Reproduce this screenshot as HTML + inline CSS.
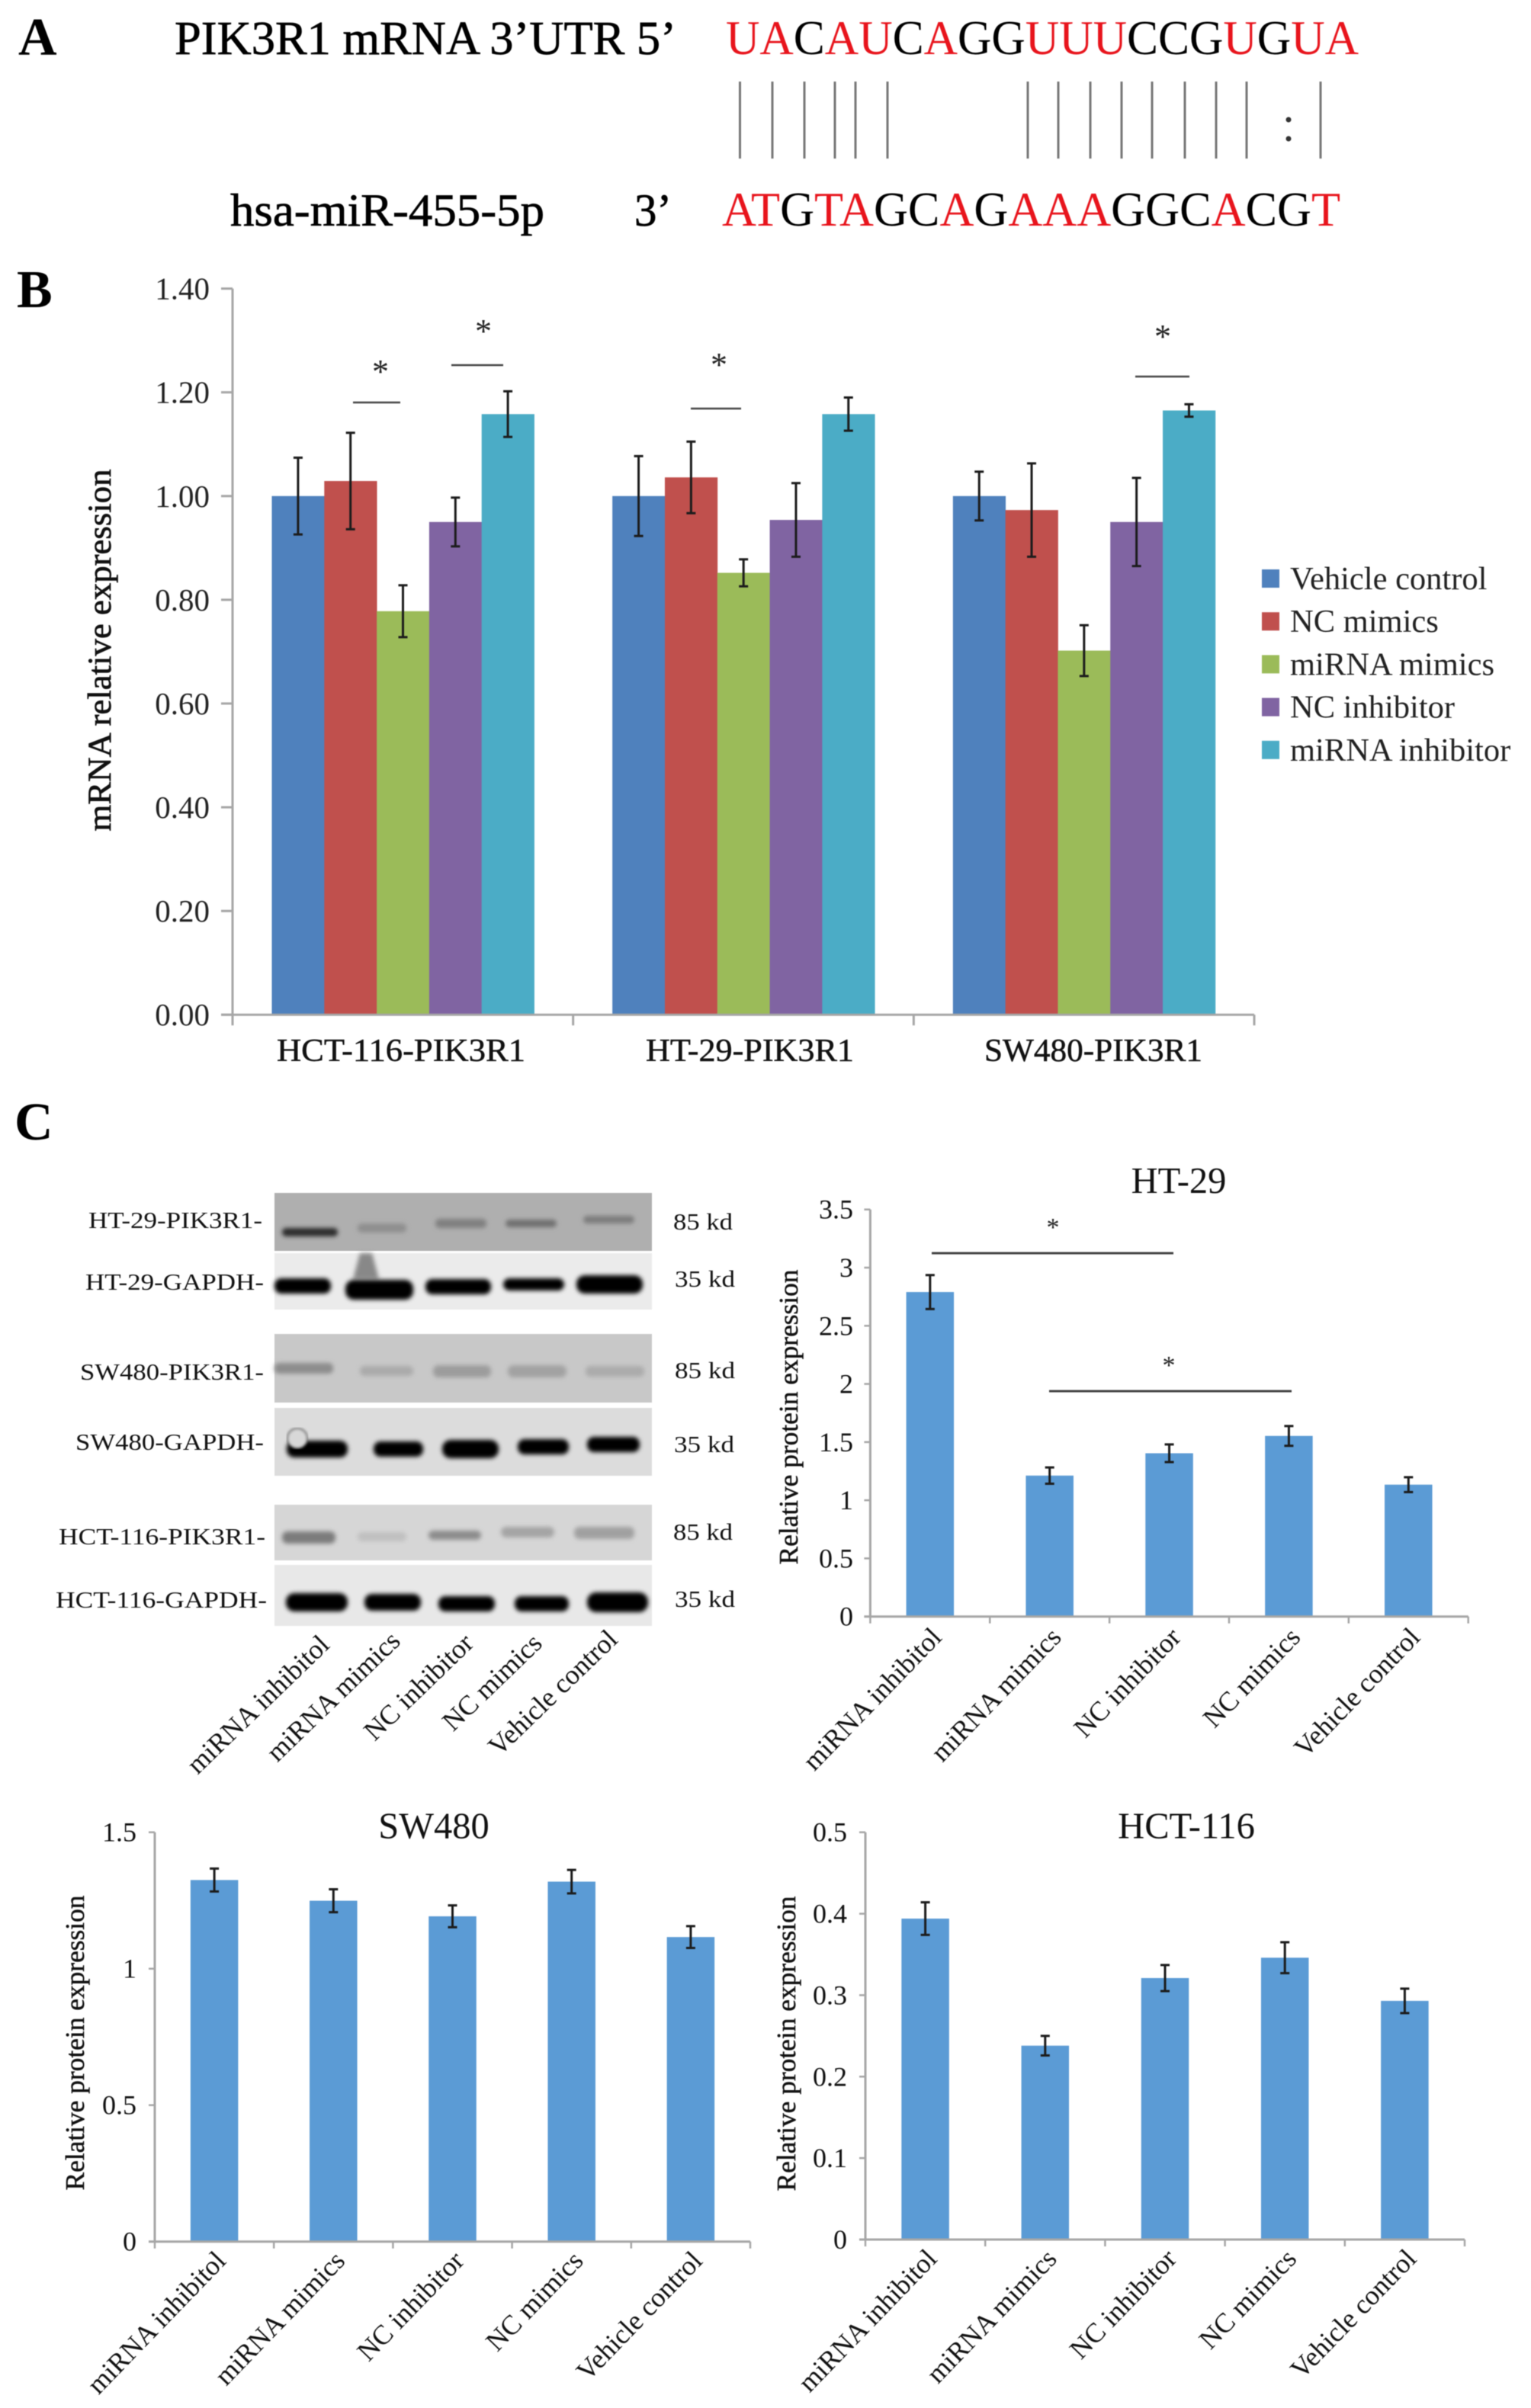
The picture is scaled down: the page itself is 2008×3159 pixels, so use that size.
<!DOCTYPE html>
<html lang="en">
<head>
<meta charset="utf-8">
<title>PIK3R1 and miR-455-5p figure</title>
<style>
html,body{margin:0;padding:0;background:#fff;}
body{width:2008px;height:3159px;overflow:hidden;}
svg{display:block;filter:blur(0.6px);font-family:"Liberation Serif",serif;}
</style>
</head>
<body>
<svg id="figure" xmlns="http://www.w3.org/2000/svg" width="2008" height="3159" viewBox="0 0 2008 3159">
<defs>
<filter id="bandBlur" x="-20%" y="-60%" width="140%" height="220%"><feGaussianBlur stdDeviation="3"/></filter>
<filter id="panelSoft" x="-5%" y="-5%" width="110%" height="110%"><feGaussianBlur stdDeviation="1.5"/></filter>
</defs>
<rect x="0" y="0" width="2008" height="3159" fill="#fff"/>

<!-- Panel A -->
<g>
<text x="24" y="72" font-size="70" font-weight="700" fill="#000">A</text>
<text x="229" y="71" font-size="62" textLength="658" lengthAdjust="spacingAndGlyphs" fill="#000" stroke="#000" stroke-width="0.7">PIK3R1 mRNA 3’UTR 5’</text>
<text x="952" y="71" font-size="64" textLength="830" lengthAdjust="spacingAndGlyphs" fill="#000"><tspan fill="#e8141c">UA</tspan>C<tspan fill="#e8141c">AU</tspan>C<tspan fill="#e8141c">A</tspan>GG<tspan fill="#e8141c">UUU</tspan>CCG<tspan fill="#e8141c">U</tspan>G<tspan fill="#e8141c">UA</tspan></text>
<g stroke="#777" stroke-width="3">
<line x1="970.5" x2="970.5" y1="107" y2="208"/><line x1="1013" x2="1013" y1="107" y2="208"/><line x1="1055" x2="1055" y1="107" y2="208"/><line x1="1095" x2="1095" y1="107" y2="208"/><line x1="1122" x2="1122" y1="107" y2="208"/><line x1="1164" x2="1164" y1="107" y2="208"/><line x1="1348" x2="1348" y1="107" y2="208"/><line x1="1388" x2="1388" y1="107" y2="208"/><line x1="1430" x2="1430" y1="107" y2="208"/><line x1="1471" x2="1471" y1="107" y2="208"/><line x1="1511" x2="1511" y1="107" y2="208"/><line x1="1554" x2="1554" y1="107" y2="208"/><line x1="1595" x2="1595" y1="107" y2="208"/><line x1="1635" x2="1635" y1="107" y2="208"/><line x1="1732" x2="1732" y1="107" y2="208"/>
</g>
<circle cx="1690" cy="157" r="3.5" fill="#333"/>
<circle cx="1690" cy="182" r="3.5" fill="#333"/>
<text x="302" y="296" font-size="60" textLength="412" lengthAdjust="spacingAndGlyphs" fill="#000" stroke="#000" stroke-width="0.7">hsa-miR-455-5p</text>
<text x="832" y="296" font-size="60" textLength="49" lengthAdjust="spacingAndGlyphs" fill="#000" stroke="#000" stroke-width="0.7">3’</text>
<text x="947" y="296" font-size="64" textLength="811" lengthAdjust="spacingAndGlyphs" fill="#000"><tspan fill="#e8141c">AT</tspan>G<tspan fill="#e8141c">TA</tspan>GC<tspan fill="#e8141c">A</tspan>G<tspan fill="#e8141c">AAA</tspan>GGC<tspan fill="#e8141c">A</tspan>CG<tspan fill="#e8141c">T</tspan></text>
</g>

<!-- Panel letters -->
<text x="22" y="403" font-size="70" font-weight="700" fill="#000">B</text>
<text x="19" y="1495" font-size="70" font-weight="700" fill="#000">C</text>

<!-- Chart B axis furniture filled by script -->
<g id="chart-b"></g>

<!-- Significance markers, chart B -->
<g fill="#222" stroke="none" font-size="44" text-anchor="middle">
<line x1="463" x2="525" y1="528" y2="528" stroke="#444" stroke-width="2.5"/>
<text x="499" y="502">*</text>
<line x1="592" x2="660" y1="479" y2="479" stroke="#444" stroke-width="2.5"/>
<text x="634" y="449">*</text>
<line x1="906" x2="972" y1="536" y2="536" stroke="#444" stroke-width="2.5"/>
<text x="943" y="493">*</text>
<line x1="1489" x2="1560" y1="494" y2="494" stroke="#444" stroke-width="2.5"/>
<text x="1525" y="456">*</text>
</g>

<!-- Western blots -->
<g>
<g>
<rect x="360" y="1565" width="495" height="76" fill="#afafaf"/>
<g filter="url(#bandBlur)">
<rect x="370" y="1611" width="73" height="11" rx="5" fill="#2c2c2c"/>
<rect x="469" y="1605" width="64" height="12" rx="5" fill="#8f8f8f"/>
<rect x="571" y="1599" width="67" height="12" rx="5" fill="#808080"/>
<rect x="663" y="1600" width="67" height="10" rx="5" fill="#707070"/>
<rect x="765" y="1595" width="67" height="10" rx="5" fill="#7c7c7c"/>
</g>
</g>
<g>
<rect x="360" y="1644" width="495" height="74" fill="#ebebeb"/>
<polygon points="472,1644 488,1644 497,1678 463,1678" fill="#888" filter="url(#bandBlur)"/>
<g filter="url(#bandBlur)">
<rect x="360" y="1677" width="74" height="20" rx="9" fill="#050505"/>
<rect x="453" y="1679" width="89" height="26" rx="11" fill="#000"/>
<rect x="558" y="1678" width="86" height="20" rx="9" fill="#050505"/>
<rect x="660" y="1677" width="80" height="16" rx="8" fill="#050505"/>
<rect x="756" y="1673" width="87" height="24" rx="11" fill="#000"/>
</g>
</g>
<g>
<rect x="360" y="1750" width="495" height="90" fill="#c8c8c8"/>
<g filter="url(#bandBlur)">
<rect x="360" y="1788" width="77" height="14" rx="6" fill="#8c8c8c"/>
<rect x="472" y="1792" width="70" height="13" rx="6" fill="#aaa"/>
<rect x="568" y="1791" width="76" height="16" rx="7" fill="#9c9c9c"/>
<rect x="666" y="1791" width="77" height="16" rx="7" fill="#a2a2a2"/>
<rect x="768" y="1792" width="77" height="14" rx="6" fill="#ababab"/>
</g>
</g>
<g>
<rect x="360" y="1847" width="495" height="89" fill="#dcdcdc"/>
<g filter="url(#bandBlur)">
<rect x="376" y="1890" width="80" height="22" rx="10" fill="#000"/>
<rect x="490" y="1891" width="65" height="20" rx="9" fill="#000"/>
<rect x="580" y="1889" width="74" height="24" rx="11" fill="#000"/>
<rect x="679" y="1888" width="67" height="20" rx="9" fill="#000"/>
<rect x="770" y="1885" width="69" height="20" rx="9" fill="#000"/>
</g>
<circle cx="390" cy="1887" r="13" fill="#d8d8d8" stroke="#555" stroke-width="2" filter="url(#panelSoft)"/>
</g>
<g>
<rect x="360" y="1974" width="495" height="73" fill="#d6d6d6"/>
<g filter="url(#bandBlur)">
<rect x="370" y="2009" width="70" height="16" rx="7" fill="#7c7c7c"/>
<rect x="469" y="2010" width="64" height="12" rx="6" fill="#c0c0c0"/>
<rect x="562" y="2008" width="69" height="12" rx="6" fill="#8c8c8c"/>
<rect x="657" y="2003" width="70" height="14" rx="7" fill="#a4a4a4"/>
<rect x="753" y="2003" width="79" height="16" rx="7" fill="#a0a0a0"/>
</g>
</g>
<g>
<rect x="360" y="2053" width="495" height="80" fill="#e8e8e8"/>
<g filter="url(#bandBlur)">
<rect x="375" y="2090" width="81" height="24" rx="11" fill="#000"/>
<rect x="478" y="2091" width="74" height="22" rx="10" fill="#000"/>
<rect x="575" y="2094" width="74" height="20" rx="9" fill="#000"/>
<rect x="675" y="2094" width="71" height="20" rx="9" fill="#000"/>
<rect x="770" y="2089" width="80" height="26" rx="12" fill="#000"/>
</g>
</g>
<g font-size="31" fill="#111">
<text x="116" y="1611" textLength="228" lengthAdjust="spacingAndGlyphs">HT-29-PIK3R1-</text>
<text x="112" y="1692" textLength="234" lengthAdjust="spacingAndGlyphs">HT-29-GAPDH-</text>
<text x="105" y="1810" textLength="241" lengthAdjust="spacingAndGlyphs">SW480-PIK3R1-</text>
<text x="99" y="1902" textLength="247" lengthAdjust="spacingAndGlyphs">SW480-GAPDH-</text>
<text x="77" y="2026" textLength="271" lengthAdjust="spacingAndGlyphs">HCT-116-PIK3R1-</text>
<text x="73" y="2109" textLength="277" lengthAdjust="spacingAndGlyphs">HCT-116-GAPDH-</text>
</g>
<g font-size="31" fill="#111">
<text x="883" y="1613" textLength="78" lengthAdjust="spacingAndGlyphs">85 kd</text>
<text x="885" y="1688" textLength="79" lengthAdjust="spacingAndGlyphs">35 kd</text>
<text x="885" y="1808" textLength="79" lengthAdjust="spacingAndGlyphs">85 kd</text>
<text x="884" y="1905" textLength="79" lengthAdjust="spacingAndGlyphs">35 kd</text>
<text x="883" y="2020" textLength="78" lengthAdjust="spacingAndGlyphs">85 kd</text>
<text x="885" y="2108" textLength="79" lengthAdjust="spacingAndGlyphs">35 kd</text>
</g>
<g font-size="36" fill="#111" text-anchor="end">
<text transform="translate(434,2160) rotate(-44)">miRNA inhibitol</text>
<text transform="translate(527,2155) rotate(-44)">miRNA mimics</text>
<text transform="translate(623,2158) rotate(-44)">NC inhibitor</text>
<text transform="translate(713,2158) rotate(-44)">NC mimics</text>
<text transform="translate(812,2153) rotate(-44)">Vehicle control</text>
</g>
</g>

<g id="chart-ht29"></g>
<g text-anchor="middle" font-size="34" fill="#222">
<line x1="1222" x2="1539" y1="1644" y2="1644" stroke="#444" stroke-width="3"/>
<text x="1381" y="1621">*</text>
<line x1="1376" x2="1694" y1="1825" y2="1825" stroke="#444" stroke-width="3"/>
<text x="1533" y="1802">*</text>
</g>
<g id="chart-sw480"></g>
<g id="chart-hct116"></g>

<script>
const groupCategories = ["HCT-116-PIK3R1", "HT-29-PIK3R1", "SW480-PIK3R1"];
const seriesNames = ["Vehicle control", "NC mimics", "miRNA mimics", "NC inhibitor", "miRNA inhibitor"];
const vehicleControlValues = [1.00, 1.00, 1.00];
const vehicleControlErrors = [0.074, 0.077, 0.047];
const ncMimicsValues = [1.029, 1.036, 0.973];
const ncMimicsErrors = [0.093, 0.069, 0.09];
const mirnaMimicsValues = [0.778, 0.852, 0.702];
const mirnaMimicsErrors = [0.05, 0.026, 0.049];
const ncInhibitorValues = [0.95, 0.954, 0.95];
const ncInhibitorErrors = [0.047, 0.071, 0.085];
const mirnaInhibitorValues = [1.158, 1.158, 1.165];
const mirnaInhibitorErrors = [0.044, 0.032, 0.012];
const mrnaTickValues = [0, 0.2, 0.4, 0.6, 0.8, 1.0, 1.2, 1.4];
const mrnaTickLabels = ["0.00", "0.20", "0.40", "0.60", "0.80", "1.00", "1.20", "1.40"];

const proteinCategories = ["miRNA inhibitol", "miRNA mimics", "NC inhibitor", "NC mimics", "Vehicle control"];
const ht29Values = [2.79, 1.212, 1.404, 1.553, 1.134];
const ht29Errors = [0.146, 0.07, 0.076, 0.085, 0.064];
const ht29TickValues = [0, 0.5, 1, 1.5, 2, 2.5, 3, 3.5];
const ht29TickLabels = ["0", "0.5", "1", "1.5", "2", "2.5", "3", "3.5"];
const sw480Values = [1.325, 1.249, 1.192, 1.319, 1.116];
const sw480Errors = [0.042, 0.042, 0.04, 0.043, 0.04];
const sw480TickValues = [0, 0.5, 1, 1.5];
const sw480TickLabels = ["0", "0.5", "1", "1.5"];
const hct116Values = [0.394, 0.238, 0.321, 0.346, 0.293];
const hct116Errors = [0.02, 0.012, 0.016, 0.019, 0.015];
const hct116TickValues = [0, 0.1, 0.2, 0.3, 0.4, 0.5];
const hct116TickLabels = ["0", "0.1", "0.2", "0.3", "0.4", "0.5"];

const NS = "http://www.w3.org/2000/svg";
function make(parent, tag, attrs, text) {
  const node = document.createElementNS(NS, tag);
  for (const key in attrs) node.setAttribute(key, attrs[key]);
  if (text !== undefined) node.textContent = text;
  parent.appendChild(node);
  return node;
}

function drawErrorBar(parent, x, yScale, value, err, capHalf) {
  const group = make(parent, "g", {stroke: "#1c1c1c", "stroke-width": 3});
  
  
  make(group, "line", {x1: x, x2: x, y1: yScale(value + err), y2: yScale(value - err)});
  make(group, "line", {x1: x - capHalf, x2: x + capHalf, y1: yScale(value + err), y2: yScale(value + err)});
  make(group, "line", {x1: x - capHalf, x2: x + capHalf, y1: yScale(value - err), y2: yScale(value - err)});
}

/* Panel B grouped bars */
(function () {
  const root = document.getElementById("chart-b");
  const left = 305, right = 1645, top = 378.6, bottom = 1331.2, maxValue = 1.4;
  const colors = ["#4f81bd", "#c0504d", "#9bbb59", "#8064a2", "#4bacc6"];
  const allValues = [vehicleControlValues, ncMimicsValues, mirnaMimicsValues, ncInhibitorValues, mirnaInhibitorValues];
  const allErrors = [vehicleControlErrors, ncMimicsErrors, mirnaMimicsErrors, ncInhibitorErrors, mirnaInhibitorErrors];
  const yScale = v => bottom - (v / maxValue) * (bottom - top);
  const groupWidth = (right - left) / groupCategories.length;
  const barWidth = 68.8;
  const barOffset = 51.5;
  const categoryCenters = [526, 983.5, 1434];
  const categoryWidths = [326, 273, 286];

  const bars = [];
  groupCategories.forEach((category, g) => {
    const start = left + g * groupWidth + barOffset;
    seriesNames.forEach((name, s) => {
      const rect = make(root, "rect", {
        x: start + s * barWidth, y: yScale(allValues[s][g]),
        width: barWidth + 0.4, height: bottom - yScale(allValues[s][g]), fill: colors[s]
      });
      
      
      bars.push([start + s * barWidth + barWidth / 2, allValues[s][g], allErrors[s][g]]);
    });
  });
  bars.forEach(b => drawErrorBar(root, b[0], yScale, b[1], b[2], 6));

  const axisY = make(root, "line", {x1: left, x2: left, y1: top, y2: bottom, stroke: "#a6a6a6", "stroke-width": 3});
  
  
  const axisX = make(root, "line", {x1: left - 15, x2: right, y1: bottom, y2: bottom, stroke: "#a6a6a6", "stroke-width": 3});
  
  

  mrnaTickValues.forEach((v, i) => {
    const tick = make(root, "line", {x1: left - 15, x2: left, y1: yScale(v), y2: yScale(v), stroke: "#a6a6a6", "stroke-width": 3});
    
    
    const label = make(root, "text", {x: 275, y: yScale(v) + 14, "font-size": 41, "text-anchor": "end", fill: "#222"}, mrnaTickLabels[i]);
    
    
  });
  for (let g = 0; g <= groupCategories.length; g++) {
    const x = left + g * groupWidth;
    const tick = make(root, "line", {x1: x, x2: x, y1: bottom, y2: bottom + 14, stroke: "#a6a6a6", "stroke-width": 3});
    
    
  }
  groupCategories.forEach((category, g) => {
    const label = make(root, "text", {
      x: categoryCenters[g], y: 1392, "font-size": 42, "text-anchor": "middle",
      textLength: categoryWidths[g], lengthAdjust: "spacingAndGlyphs",
      fill: "#111", stroke: "#111", "stroke-width": 0.5
    }, category);
    
    
  });

  const title = make(root, "text", {
    transform: "translate(145,853) rotate(-90)", "font-size": 43, "text-anchor": "middle",
    textLength: 475, lengthAdjust: "spacingAndGlyphs", fill: "#111", stroke: "#111", "stroke-width": 0.7
  }, "mRNA relative expression");
  
  

  seriesNames.forEach((name, s) => {
    const rowY = 759 + s * 56.2;
    const swatch = make(root, "rect", {x: 1655, y: rowY - 12, width: 23, height: 24, fill: colors[s]});
    
    
    const label = make(root, "text", {x: 1692, y: rowY + 14, "font-size": 42.5, fill: "#222"}, name);
    
    
  });
})();

/* Panel C single-series charts */
function drawProteinChart(rootId, box, values, errors, tickValues, tickLabels) {
  const root = document.getElementById(rootId);
  const maxValue = tickValues[tickValues.length - 1];
  const yScale = v => box.bottom - (v / maxValue) * (box.bottom - box.top);
  const step = (box.right - box.left) / proteinCategories.length;
  const barWidth = 62.5;

  proteinCategories.forEach((category, i) => {
    const cx = box.left + (i + 0.5) * step;
    const rect = make(root, "rect", {
      x: cx - barWidth / 2, y: yScale(values[i]), width: barWidth,
      height: box.bottom - yScale(values[i]), fill: "#5b9bd5"
    });
    
    
    drawErrorBar(root, cx, yScale, values[i], errors[i], 6);
    const label = make(root, "text", {
      transform: "translate(" + (cx + box.labelDx) + "," + (box.bottom + box.labelDy) + ") rotate(-46)",
      "font-size": 36, "text-anchor": "end", fill: "#111"
    }, category);
    
    
  });

  const axisY = make(root, "line", {x1: box.left, x2: box.left, y1: box.top, y2: box.bottom, stroke: "#a6a6a6", "stroke-width": 3});
  
  
  const axisX = make(root, "line", {x1: box.left - 8, x2: box.right, y1: box.bottom, y2: box.bottom, stroke: "#a6a6a6", "stroke-width": 3});
  
  

  tickValues.forEach((v, i) => {
    const tick = make(root, "line", {x1: box.left - 8, x2: box.left, y1: yScale(v), y2: yScale(v), stroke: "#a6a6a6", "stroke-width": 2.5});
    
    
    const label = make(root, "text", {x: box.labelRight, y: yScale(v) + 12, "font-size": 36, "text-anchor": "end", fill: "#111"}, tickLabels[i]);
    
    
  });
  for (let i = 0; i <= proteinCategories.length; i++) {
    const x = box.left + i * step;
    const tick = make(root, "line", {x1: x, x2: x, y1: box.bottom, y2: box.bottom + 9, stroke: "#a6a6a6", "stroke-width": 2.5});
    
    
  }

  const title = make(root, "text", {x: box.titleX, y: box.titleY, "font-size": 48.5, "text-anchor": "middle", fill: "#111"}, box.title);
  
  
  const yTitle = make(root, "text", {
    transform: "translate(" + box.yTitleX + "," + box.yTitleY + ") rotate(-90)", "font-size": 35,
    "text-anchor": "middle", textLength: 387, lengthAdjust: "spacingAndGlyphs",
    fill: "#111", stroke: "#111", "stroke-width": 0.5
  }, "Relative protein expression");
  
  
}

drawProteinChart("chart-ht29",
  {left: 1141.4, right: 1925.7, top: 1586.7, bottom: 2120.7, labelRight: 1119, labelDx: 17, labelDy: 29, title: "HT-29", titleX: 1546, titleY: 1565, yTitleX: 1046, yTitleY: 1859},
  ht29Values, ht29Errors, ht29TickValues, ht29TickLabels);
drawProteinChart("chart-sw480",
  {left: 203, right: 984, top: 2403.7, bottom: 2940.7, labelRight: 179, labelDx: 17, labelDy: 27, title: "SW480", titleX: 569, titleY: 2411.6, yTitleX: 110, yTitleY: 2680},
  sw480Values, sw480Errors, sw480TickValues, sw480TickLabels);
drawProteinChart("chart-hct116",
  {left: 1135, right: 1921, top: 2403.7, bottom: 2938, labelRight: 1111, labelDx: 17, labelDy: 27, title: "HCT-116", titleX: 1556, titleY: 2411.6, yTitleX: 1043, yTitleY: 2681},
  hct116Values, hct116Errors, hct116TickValues, hct116TickLabels);
</script>
</svg>
</body>
</html>
